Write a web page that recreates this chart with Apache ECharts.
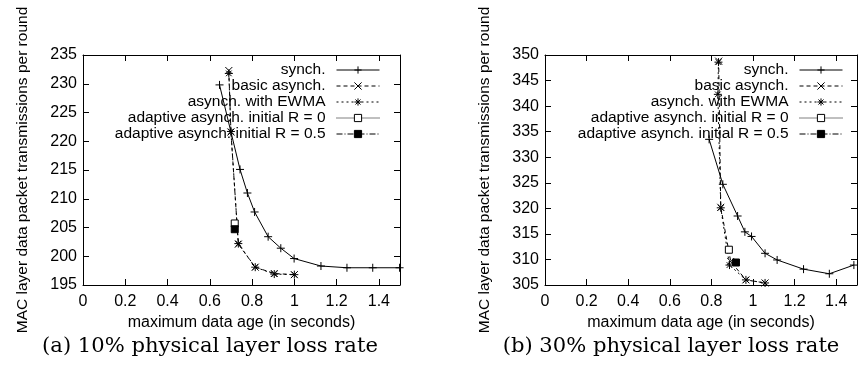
<!DOCTYPE html>
<html>
<head>
<meta charset="utf-8">
<script src="https://cdn.jsdelivr.net/npm/echarts@6/dist/echarts.min.js"></script>
<style>
html,body{margin:0;padding:0;background:#fff;}
#wrap{width:860px;height:373px;position:relative;overflow:hidden;}
#ca{position:absolute;left:0;top:0;width:430px;height:373px;}
#cb{position:absolute;left:430px;top:0;width:430px;height:373px;}
</style>
</head>
<body>
<div id="wrap"><div id="ca"></div><div id="cb"></div></div>
<script>
// ---- names / labels ----
const seriesNames = ['synch.', 'basic asynch.', 'asynch. with EWMA', 'adaptive asynch. initial R = 0', 'adaptive asynch. initial R = 0.5'];
const xTitle = 'maximum data age (in seconds)';
const yTitle = 'MAC layer data packet transmissions per round';
const captionA = '(a) 10% physical layer loss rate';
const captionB = '(b) 30% physical layer loss rate';
const xRange = [0, 1.5];
const xStep = 0.2;
const yRangeA = [195, 235];
const yRangeB = [305, 350];
const yStep = 5;

// ---- (a) 10% loss ----
const aSynchX = [0.646, 0.743, 0.778, 0.812, 0.876, 0.936, 0.999, 1.126, 1.249, 1.371, 1.498];
const aSynchY = [229.8, 215.1, 211.0, 207.7, 203.4, 201.4, 199.6, 198.3, 198.0, 198.0, 198.0];
const aBasicX = [0.690, 0.700, 0.735, 0.815, 0.905, 1.000];
const aBasicY = [232.3, 221.6, 202.1, 198.1, 197.0, 196.8];
const aEwmaX  = [0.690, 0.700, 0.735, 0.815, 0.905, 1.000];
const aEwmaY  = [231.8, 221.7, 202.2, 198.1, 196.9, 196.8];
const aR0X = [0.718];
const aR0Y = [205.7];
const aR05X = [0.718];
const aR05Y = [204.7];

// ---- (b) 30% loss ----
const bSynchX = [0.789, 0.855, 0.926, 0.961, 0.993, 1.058, 1.116, 1.243, 1.367, 1.485];
const bSynchY = [333.5, 324.7, 318.5, 315.4, 314.5, 311.2, 309.9, 308.1, 307.2, 308.9];
const bBasicX = [0.835, 0.845, 0.893, 0.966, 1.058];
const bBasicY = [348.8, 320.2, 309.6, 306.0, 305.4];
const bEwmaX  = [0.834, 0.831, 0.845, 0.887, 0.966, 1.058];
const bEwmaY  = [348.6, 342.3, 320.1, 308.9, 306.0, 305.4];
const bR0X = [0.884];
const bR0Y = [311.9];
const bR05X = [0.918];
const bR05Y = [309.4];

const FONT = "'Liberation Sans', Arial, sans-serif";
const SYM_PLUS = 'path://M0,5L10,5M5,0L5,10';
const SYM_CROSS = 'path://M0,0L10,10M10,0L0,10';
const SYM_STAR = 'path://M0,5L10,5M5,0L5,10M1.5,1.5L8.5,8.5M8.5,1.5L1.5,8.5';

function zip(xs, ys) { return xs.map((x, i) => [x, ys[i]]); }

function mkSeries(name, xs, ys, symbol, symSize, lineType, fill) {
  return {
    name: name, type: 'line', data: zip(xs, ys),
    symbol: symbol, symbolSize: symSize, showSymbol: true,
    lineStyle: { color: '#000', width: 1, type: lineType },
    itemStyle: { color: fill, borderColor: '#000', borderWidth: 1 },
    emphasis: { disabled: true }, animation: false, z: 3
  };
}

function buildOption(cfg) {
  const axisCommon = {
    type: 'value',
    axisLine: { show: true, onZero: false, lineStyle: { color: '#000', width: 1 } },
    axisTick: { show: true, inside: true, length: 6, lineStyle: { color: '#000', width: 1 } },
    splitLine: { show: false }
  };
  const xFmt = v => (Math.abs(v - xRange[1]) < 1e-9 ? '' : String(+v.toFixed(1)));
  return {
    animation: false,
    backgroundColor: '#fff',
    grid: { left: cfg.gridLeft, top: 55, width: cfg.gridWidth, height: 230, show: false },
    xAxis: [
      Object.assign({}, axisCommon, {
        position: 'bottom', min: xRange[0], max: xRange[1], interval: xStep,
        axisLabel: { color: '#000', fontSize: 16, fontFamily: FONT, margin: 9, formatter: xFmt },
        name: xTitle, nameLocation: 'middle', nameGap: 30,
        nameTextStyle: { color: '#000', fontSize: 16, fontFamily: FONT }
      }),
      Object.assign({}, axisCommon, {
        position: 'top', min: xRange[0], max: xRange[1], interval: xStep,
        axisLabel: { show: false }
      })
    ],
    yAxis: [
      Object.assign({}, axisCommon, {
        position: 'left', min: cfg.yRange[0], max: cfg.yRange[1], interval: yStep,
        axisLabel: { color: '#000', fontSize: 16, fontFamily: FONT, margin: 6 },
        name: yTitle, nameLocation: 'middle', nameGap: 52, nameRotate: 90,
        nameTextStyle: { color: '#000', fontSize: 15.5, fontFamily: FONT }
      }),
      Object.assign({}, axisCommon, {
        position: 'right', min: cfg.yRange[0], max: cfg.yRange[1], interval: yStep,
        axisLabel: { show: false }
      })
    ],
    legend: {
      orient: 'vertical', align: 'right', right: cfg.legendRight, top: 62, padding: 0,
      itemWidth: 43, itemHeight: 9, itemGap: 0, selectedMode: false,
      data: seriesNames,
      lineStyle: { width: 1 },
      itemStyle: { borderWidth: 1 },
      textStyle: { color: '#000', fontSize: 15.5, fontFamily: FONT, lineHeight: 15.6, padding: [0, 6, 0, 0] }
    },
    graphic: [{
      type: 'text', x: cfg.captionX, y: 347, scaleX: 1.055, silent: true,
      style: { text: cfg.caption, align: 'center', verticalAlign: 'middle', fill: '#000', fontSize: 20, fontFamily: "'DejaVu Serif', serif" }
    }],
    series: [
      mkSeries(seriesNames[0], cfg.s[0][0], cfg.s[0][1], SYM_PLUS, 8, 'solid', '#000'),
      mkSeries(seriesNames[1], cfg.s[1][0], cfg.s[1][1], SYM_CROSS, 7, [4, 3], '#000'),
      mkSeries(seriesNames[2], cfg.s[2][0], cfg.s[2][1], SYM_STAR, 8, [2, 3], '#000'),
      mkSeries(seriesNames[3], cfg.s[3][0], cfg.s[3][1], 'rect', 7, [1, 1], '#fff'),
      mkSeries(seriesNames[4], cfg.s[4][0], cfg.s[4][1], 'rect', 7, [6, 2, 1, 2], '#000')
    ]
  };
}

const chartA = echarts.init(document.getElementById('ca'), null, { renderer: 'canvas' });
chartA.setOption(buildOption({
  gridLeft: 83, gridWidth: 317, yRange: yRangeA, legendRight: 50, caption: captionA, captionX: 210,
  s: [[aSynchX, aSynchY], [aBasicX, aBasicY], [aEwmaX, aEwmaY], [aR0X, aR0Y], [aR05X, aR05Y]]
}));
const chartB = echarts.init(document.getElementById('cb'), null, { renderer: 'canvas' });
chartB.setOption(buildOption({
  gridLeft: 115, gridWidth: 316, yRange: yRangeB, legendRight: 17, caption: captionB, captionX: 241,
  s: [[bSynchX, bSynchY], [bBasicX, bBasicY], [bEwmaX, bEwmaY], [bR0X, bR0Y], [bR05X, bR05Y]]
}));
</script>
</body>
</html>
